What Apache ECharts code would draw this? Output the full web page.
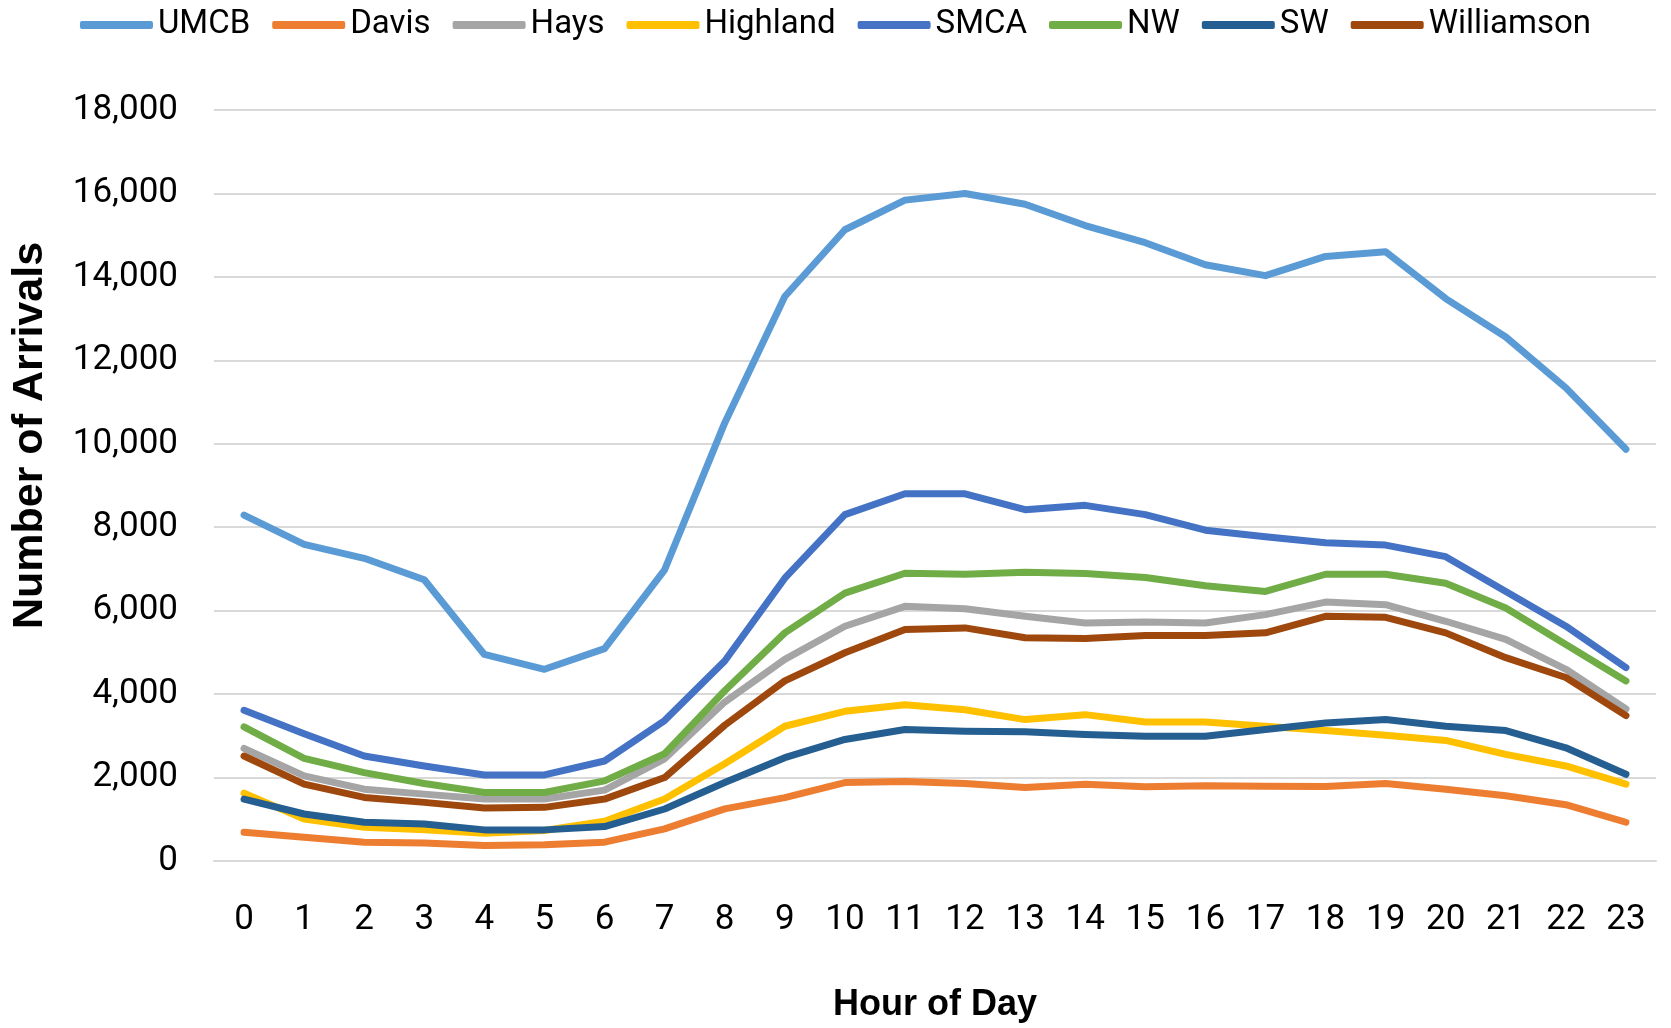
<!DOCTYPE html>
<html>
<head>
<meta charset="utf-8">
<script src="https://cdn.jsdelivr.net/npm/echarts@6/dist/echarts.min.js"></script>
<style>
html,body{margin:0;padding:0;background:#fff;}
#chart{width:1671px;height:1028px;}
</style>
</head>
<body>
<div id="chart"></div>
<script>
const hours = ['0','1','2','3','4','5','6','7','8','9','10','11','12','13','14','15','16','17','18','19','20','21','22','23'];
const yTicksMax = 18000;
const yTickStep = 2000;

const UMCB = [8290, 7590, 7255, 6740, 4950, 4595, 5090, 6980, 10500, 13530, 15130, 15840, 16000, 15740, 15230, 14820, 14290, 14030, 14490, 14600, 13480, 12560, 11340, 9870];
const Davis = [690, 571, 452, 429, 373, 389, 452, 770, 1250, 1520, 1881, 1905, 1857, 1762, 1841, 1778, 1802, 1794, 1786, 1857, 1722, 1563, 1349, 929];
const Hays = [2698, 2040, 1722, 1603, 1484, 1484, 1698, 2450, 3810, 4833, 5627, 6103, 6048, 5865, 5706, 5730, 5706, 5905, 6206, 6143, 5746, 5310, 4595, 3643];
const Highland = [1627, 1008, 810, 746, 667, 730, 952, 1484, 2330, 3230, 3587, 3746, 3627, 3389, 3508, 3333, 3333, 3230, 3127, 3016, 2889, 2556, 2278, 1841];
const SMCA = [3611, 3048, 2516, 2278, 2063, 2063, 2397, 3365, 4794, 6778, 8302, 8802, 8802, 8421, 8524, 8302, 7929, 7770, 7627, 7571, 7294, 6460, 5627, 4635];
const NW = [3214, 2460, 2119, 1857, 1643, 1643, 1921, 2571, 4080, 5468, 6421, 6897, 6873, 6921, 6889, 6794, 6595, 6460, 6873, 6873, 6659, 6063, 5190, 4317];
const SW = [1484, 1127, 929, 889, 746, 746, 825, 1246, 1880, 2476, 2913, 3151, 3111, 3095, 3032, 2992, 2992, 3151, 3310, 3389, 3230, 3127, 2714, 2079];
const Williamson = [2516, 1841, 1524, 1405, 1270, 1286, 1484, 2000, 3254, 4317, 4992, 5548, 5587, 5349, 5333, 5405, 5405, 5468, 5865, 5841, 5468, 4873, 4397, 3484];

const seriesNames = ['UMCB','Davis','Hays','Highland','SMCA','NW','SW','Williamson'];
const seriesData = [UMCB, Davis, Hays, Highland, SMCA, NW, SW, Williamson];
const colors = ['#5B9BD5','#ED7D31','#A5A5A5','#FFC000','#4472C4','#70AD47','#255E91','#9E480E'];

const FONT = "Roboto, 'Liberation Sans', Arial, sans-serif";
const FONT_B = "'Liberation Sans', Arial, sans-serif";

const chart = echarts.init(document.getElementById('chart'), null, {renderer:'canvas'});
chart.setOption({
  animation: false,
  color: colors,
  legend: {
    top: 1,
    left: 'center',
    icon: 'roundRect',
    itemWidth: 73,
    itemHeight: 8,
    itemGap: 22,
    textStyle: {fontFamily: FONT, fontSize: 33, color: '#000', lineHeight: 38},
    data: seriesNames
  },
  grid: {left: 214, right: 15, top: 110, bottom: 163},
  xAxis: {
    type: 'category',
    data: hours,
    boundaryGap: true,
    axisLine: {show: true, lineStyle: {color: '#d9d9d9', width: 2}},
    axisTick: {show: false},
    axisLabel: {fontFamily: FONT, fontSize: 35, color: '#000', margin: 42},
    name: 'Hour of Day',
    nameLocation: 'middle',
    nameGap: 126,
    nameTextStyle: {fontFamily: FONT_B, fontWeight: 'bold', fontSize: 36, color: '#000'}
  },
  yAxis: {
    type: 'value',
    min: 0,
    max: yTicksMax,
    interval: yTickStep,
    axisLine: {show: false},
    axisTick: {show: false},
    axisLabel: {fontFamily: FONT, fontSize: 35, color: '#000', margin: 36,
      formatter: v => v.toLocaleString('en-US')},
    splitLine: {lineStyle: {color: '#d9d9d9', width: 2}},
    name: 'Number of Arrivals',
    nameLocation: 'middle',
    nameRotate: 90,
    nameGap: 162,
    nameTextStyle: {fontFamily: FONT_B, fontWeight: 'bold', fontSize: 43, color: '#000', padding: [0,0,0,100]}
  },
  series: seriesNames.map((n, i) => ({
    name: n,
    type: 'line',
    data: seriesData[i],
    symbol: 'none',
    lineStyle: {width: 7, cap: 'round', join: 'round', color: colors[i]},
    itemStyle: {color: colors[i]}
  }))
});
</script>
</body>
</html>
